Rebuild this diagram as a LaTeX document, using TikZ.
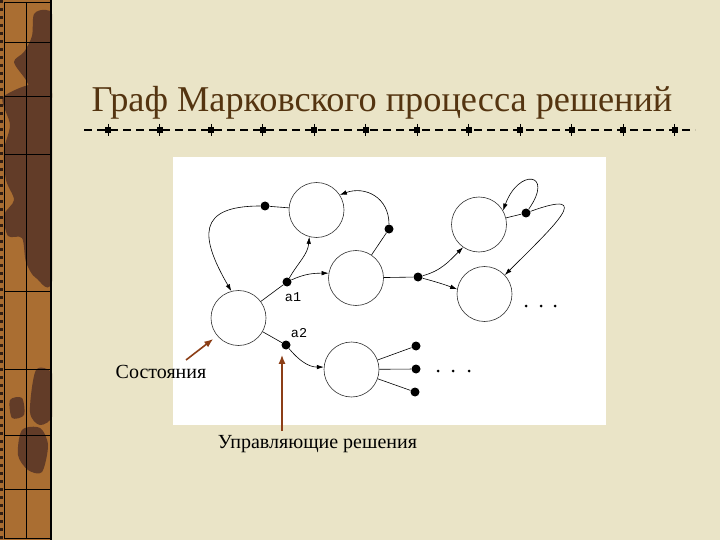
\documentclass[tikz,border=0pt]{standalone}
\usepackage{fontspec}
\setmainfont{Liberation Serif}
\setmonofont{Liberation Mono}
\usepackage{tikz}
\usetikzlibrary{automata, positioning, arrows, arrows.meta}

\definecolor{parchment}{RGB}{234,228,199}
\definecolor{stripbrown}{RGB}{170,110,50}
\definecolor{stripdark}{RGB}{98,60,40}
\definecolor{titlebrown}{RGB}{84,52,16}
\definecolor{pointerbrown}{RGB}{140,62,22}

\tikzset{
  every state/.style={draw=black!80, line width=0.6pt, fill=white, minimum size=55pt, inner sep=0pt},
  dec/.style={circle, fill=black, inner sep=0pt, minimum size=9pt},
  fewdots/.style={circle, fill=black, inner sep=0pt, minimum size=3pt},
  pointer/.style={draw=pointerbrown, line width=1.6pt, -{Latex[length=9pt,width=7pt]}},
  lbl/.style={font=\fontsize{20}{22}\selectfont},
  actlbl/.style={font=\ttfamily\fontsize{13.5}{15}\selectfont},
}

\begin{document}
\begin{tikzpicture}
	[x=1pt, y=1pt, on grid, line width=0.6pt, >={Latex[length=7pt,width=4.5pt]}]
   % slide background
   \fill[parchment] (0,0) rectangle (720,-540);
   \useasboundingbox (0,0) rectangle (720,-540);
   % left strip
   \begin{scope}
     \clip (0,0) rectangle (52,-540);
     \fill[stripbrown] (0,0) rectangle (52,-540);
     \fill[stripdark] plot[smooth cycle] coordinates {(34,-14) (46,-10) (53,-20) (53,-95) (36,-98) (26,-80) (14,-62) (24,-52) (32,-36)};
     \fill[stripdark] plot[smooth cycle] coordinates {(4,-96) (53,-96) (53,-275) (36,-278) (26,-262) (22,-238) (8,-236) (4,-215) (14,-200) (6,-180) (4,-150) (10,-125)};
     \fill[stripdark] plot[smooth cycle] coordinates {(36,-370) (53,-375) (53,-415) (40,-425) (30,-412)};
     \fill[stripdark] plot[smooth cycle] coordinates {(22,-430) (40,-428) (48,-445) (42,-472) (28,-470) (18,-455)};
     \fill[stripdark] plot[smooth cycle] coordinates {(10,-400) (22,-398) (24,-415) (12,-418)};
   \end{scope}
   \draw[stripdark!50!black, line width=3pt, dash pattern=on 3pt off 5pt] (1.5,0) -- (1.5,-540);
   \draw[line width=0.9pt] (4,-2) rectangle (51,-538);
   \draw[line width=2pt] (51,0) -- (51,-540);
   \draw[line width=0.8pt] (26,-2) -- (26,-538);
   \foreach \y in {42,96,154,291,369,435,489}
     \draw[line width=0.8pt] (4,-\y) -- (51,-\y);

   % title and rule
   \node[anchor=base, text=titlebrown, font=\fontsize{36.3}{38}\selectfont] (title) at (382,-112) {Граф Марковского процесса решений};
   \draw[line width=1.2pt, dash pattern=on 8pt off 5pt] (84,-130) -- (695,-130);
   \foreach \i in {0,...,11} {
     \fill (108+51.5*\i-3,-127) rectangle ++(6,-6);
     \draw[line width=0.8pt] (108+51.5*\i,-124) -- ++(0,-12);
   }

   % diagram
   \fill[white] (173,-157) rectangle (606,-425);
   \node[state] (s_0) at (238.5,-318) {};
   \node[state] (s_1) [above right=108pt and 78pt of s_0] {};
   \node[state] (s_2) [below right=68pt and 39.5pt of s_1] {};
   \node[state] (s_3) [above right=53.5pt and 123pt of s_2] {};
   \node[state] (s_4) [below right=69.5pt and 5.5pt of s_3] {};
   \node[state] (s_5) [below right=51.5pt and 113pt of s_0] {};

   \node[dec] (d_1) at (265,-206) {};
   \node[dec] (a_1) at (287,-282) {};
   \node[dec] (d_2) at (389,-229) {};
   \node[dec] (d_3) at (418,-277) {};
   \node[dec] (d_4) at (526,-213) {};
   \node[dec] (a_2) at (286,-345) {};
   \node[dec] (e_1) at (416,-346) {};
   \node[dec] (e_2) at (416,-369) {};
   \node[dec] (e_3) at (415,-392) {};

   \node[actlbl] (l_1) at (293,-297) {a1};
   \node[actlbl] (l_2) at (299,-333) {a2};

   \foreach \x in {526,541,555} \node[fewdots] at (\x,-306) {};
   \foreach \x in {438,453,469} \node[fewdots] at (\x,-371) {};

   \draw (s_1) -- (d_1);
   \draw (s_0) -- (a_1);
   \draw (s_0) -- (a_2);
   \draw (s_2) -- (d_2);
   \draw (s_2) -- (d_3);
   \draw (s_3) -- (d_4);
   \draw (s_5) -- (e_1);
   \draw (s_5) -- (e_2);
   \draw (s_5) -- (e_3);

    \path[->] 
    (d_1) edge [out=180, in=120, looseness=1.8] (s_0.105)
    (a_1) edge [out=60, in=-95] (s_1.255)
          edge [out=25, in=180] (s_2.170)
    (d_2) edge [out=90, in=20, looseness=1.2] (s_1.33)
    (d_3) edge [out=15, in=-135] (s_3.235)
          edge [out=-15, in=160] (s_4.170)
    (d_4) edge [out=55, in=70, looseness=4.5] (s_3.30)
          edge [out=20, in=45, looseness=2.6] (s_4.43)
    (a_2) edge [out=-50, in=180] (s_5.175);

   % callouts
   \node[lbl, anchor=base] (states) at (161,-378) {Состояния};
   \node[lbl, anchor=base] (decisions) at (317.5,-448) {Управляющие решения};
   \coordinate (p_1) at (186,-360);
   \coordinate (p_2) at (282,-431);
   \draw[pointer, shorten >=5pt] (p_1) -- (s_0.220);
   \draw[pointer, shorten >=5pt] (p_2) -- (p_2 |- a_2.south);
\end{tikzpicture}
\end{document}
